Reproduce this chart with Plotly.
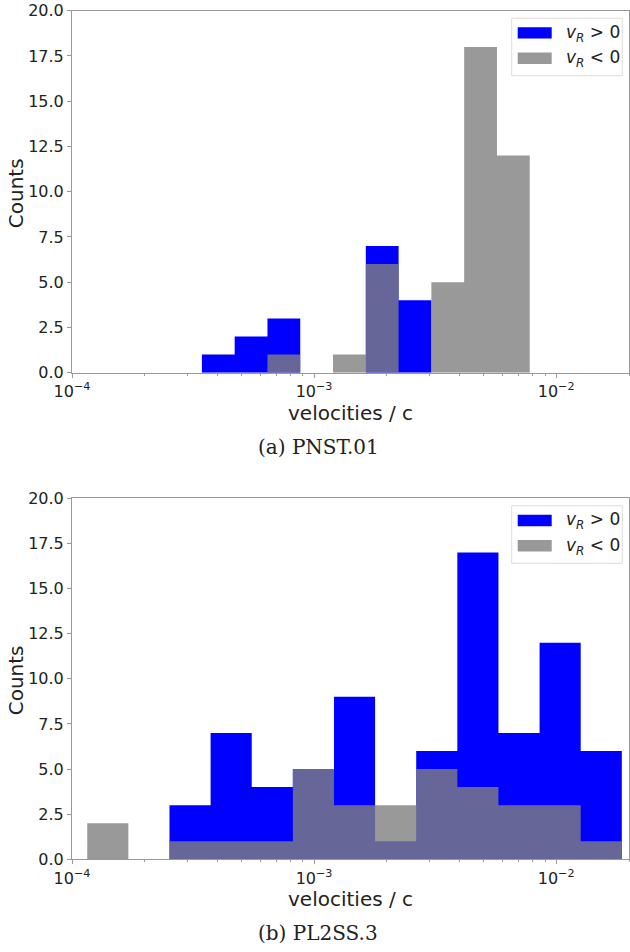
import numpy as np
import plotly.graph_objects as go

# ---- histogram data -------------------------------------------------------
# (a) PNST.01 : 10 log-spaced bins
edges_lo_a, edges_hi_a, nbins_a = 3.44e-4, 7.78e-3, 10
counts_pos_a = [1, 2, 3, 0, 0, 7, 4, 0, 0, 0]
counts_neg_a = [0, 0, 1, 0, 1, 6, 0, 5, 18, 12]

# (b) PL2SS.3 : 13 log-spaced bins
edges_lo_b, edges_hi_b, nbins_b = 1.156e-4, 1.868e-2, 13
counts_pos_b = [0, 0, 3, 7, 4, 5, 9, 1, 6, 17, 7, 12, 6]
counts_neg_b = [2, 0, 1, 1, 1, 5, 3, 3, 5, 4, 3, 3, 1]

captions = ["(a) PNST.01", "(b) PL2SS.3"]
legend_labels = ["<i>v</i><sub><i>R</i></sub> > 0", "<i>v</i><sub><i>R</i></sub> < 0"]
x_title = "velocities / c"
y_title = "Counts"
y_ticks = [0, 2.5, 5, 7.5, 10, 12.5, 15, 17.5, 20]
x_major_ticks = [1e-4, 1e-3, 1e-2]
x_major_text = ["10<sup>\u22124</sup>", "10<sup>\u22123</sup>", "10<sup>\u22122</sup>"]
x_limits = (1e-4, 2e-2)

# ---- figure geometry (pixels) ---------------------------------------------
W, H = 630, 952
AX_LEFT, AX_RIGHT = 72, 629
PANELS_PX = [(10.7, 372.7), (498.3, 859.3)]   # (top, bottom) of each axes

BLUE = "rgb(0,0,255)"
GRAY = "rgba(128,128,128,0.8)"
SPINE = "#999999"
TEXT = "#222222"


def px_x(x):
    return x / W


def px_y(y):
    return 1 - y / H


def step_polygon(edges, counts):
    xs, ys = [edges[0]], [0]
    for i, c in enumerate(counts):
        xs += [edges[i], edges[i + 1]]
        ys += [c, c]
    xs.append(edges[-1])
    ys.append(0)
    return xs, ys


fig = go.Figure()

datasets = [
    (np.geomspace(edges_lo_a, edges_hi_a, nbins_a + 1), counts_pos_a, counts_neg_a),
    (np.geomspace(edges_lo_b, edges_hi_b, nbins_b + 1), counts_pos_b, counts_neg_b),
]

minor_ticks = [m * 10.0 ** k for k in (-4, -3) for m in range(2, 10)] + [2e-2]

shapes, annotations = [], []

for idx, ((edges, pos, neg), (top, bot)) in enumerate(zip(datasets, PANELS_PX)):
    suffix = "" if idx == 0 else str(idx + 1)
    xa, ya = "x" + suffix, "y" + suffix

    for counts, color in ((pos, BLUE), (neg, GRAY)):
        xs, ys = step_polygon(list(edges), counts)
        fig.add_trace(go.Scatter(
            x=xs, y=ys, xaxis=xa, yaxis=ya, mode="lines",
            line=dict(width=0), fill="toself", fillcolor=color,
            hoverinfo="skip", showlegend=False,
        ))

    axis_common = dict(
        showline=True, linecolor=SPINE, linewidth=1, mirror=True,
        ticks="outside", ticklen=4, tickwidth=1, tickcolor=SPINE,
        showgrid=False, zeroline=False, automargin=False,
        tickfont=dict(family="DejaVu Sans", size=16, color=TEXT),
    )
    fig.layout["xaxis" + suffix] = dict(
        axis_common, type="log",
        range=[np.log10(x_limits[0]), np.log10(x_limits[1])],
        tickmode="array", tickvals=x_major_ticks, ticktext=x_major_text,
        domain=[px_x(AX_LEFT), px_x(AX_RIGHT)],
        anchor=ya,
        minor=dict(tickmode="array", tickvals=minor_ticks, ticks="outside",
                   ticklen=2, tickcolor=SPINE, showgrid=False),
    )
    fig.layout["yaxis" + suffix] = dict(
        axis_common, range=[0, 20], tickmode="array", tickvals=y_ticks,
        tickformat=".1f",
        domain=[px_y(bot), px_y(top)],
        anchor=xa,
    )

    # axis labels and caption
    annotations.append(dict(
        text=y_title, xref="paper", yref="paper",
        x=px_x(15.5), y=px_y((top + bot) / 2 + 2), textangle=-90,
        showarrow=False, xanchor="center", yanchor="middle",
        font=dict(family="DejaVu Sans", size=20, color=TEXT),
    ))
    annotations.append(dict(
        text=x_title, xref="paper", yref="paper",
        x=px_x((AX_LEFT + AX_RIGHT) / 2), y=px_y(bot + 40),
        showarrow=False, xanchor="center", yanchor="middle",
        font=dict(family="DejaVu Sans", size=20, color=TEXT),
    ))
    annotations.append(dict(
        text=captions[idx], xref="paper", yref="paper",
        x=px_x(318), y=px_y(bot + 74),
        showarrow=False, xanchor="center", yanchor="middle",
        font=dict(family="DejaVu Serif", size=20, color=TEXT),
    ))

    # legend box (upper right of the axes)
    box_l, box_r = 511.7, 622.3
    box_t = top + 7.5
    box_b = box_t + 57.5
    shapes.append(dict(
        type="rect", xref="paper", yref="paper",
        x0=px_x(box_l), x1=px_x(box_r), y0=px_y(box_b), y1=px_y(box_t),
        line=dict(color="#dddddd", width=1), fillcolor="rgba(255,255,255,0.8)",
        layer="above",
    ))
    for j, color in enumerate((BLUE, GRAY)):
        pt = box_t + 9.0 + 25.3 * j
        shapes.append(dict(
            type="rect", xref="paper", yref="paper",
            x0=px_x(517.7), x1=px_x(551.7), y0=px_y(pt + 11.4), y1=px_y(pt),
            line=dict(width=0), fillcolor=color, layer="above",
        ))
        annotations.append(dict(
            text=legend_labels[j], xref="paper", yref="paper",
            x=px_x(564), y=px_y(pt + 6), showarrow=False,
            xanchor="left", yanchor="middle",
            font=dict(family="DejaVu Sans", size=17, color=TEXT),
        ))

fig.update_layout(
    width=W, height=H, autosize=False,
    margin=dict(l=0, r=0, t=0, b=0),
    paper_bgcolor="white", plot_bgcolor="white",
    shapes=shapes, annotations=annotations,
    showlegend=False,
)

fig.write_html("out.html")
